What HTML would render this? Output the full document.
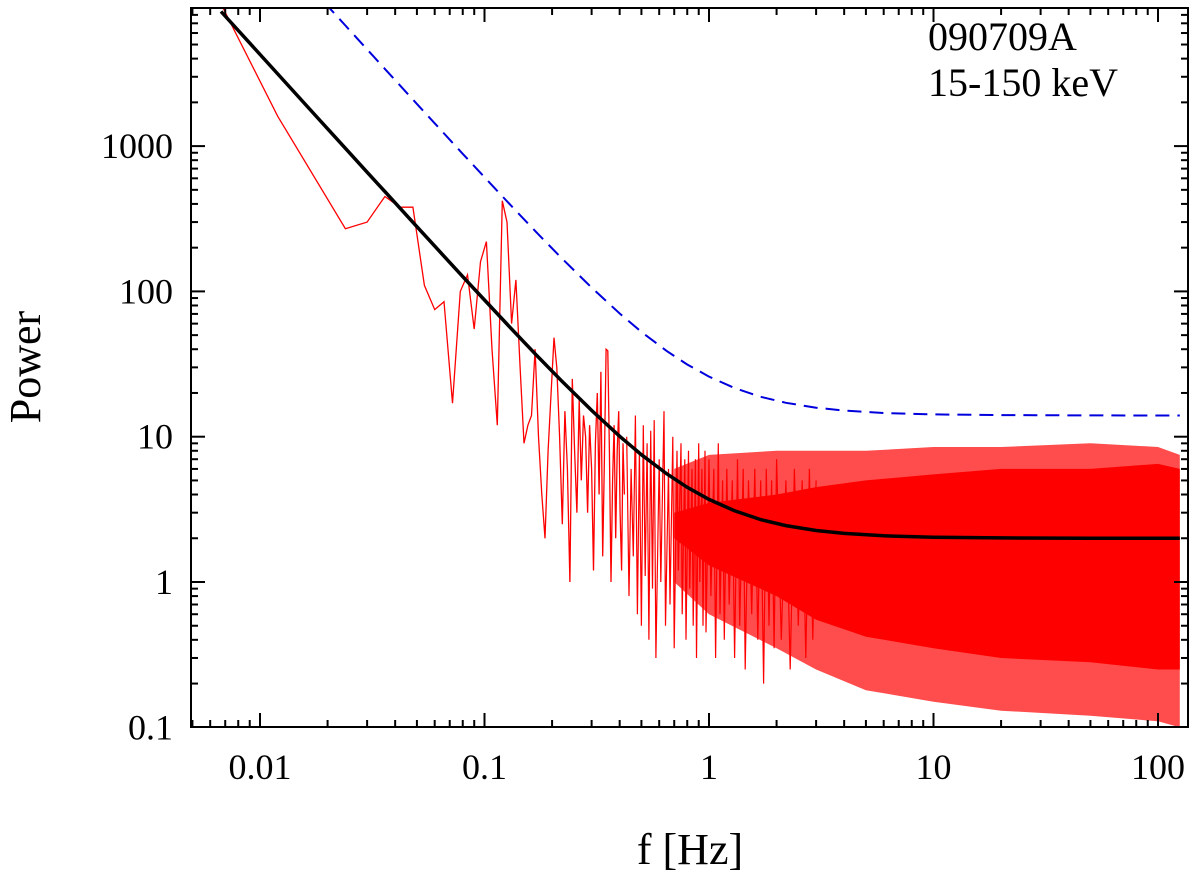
<!DOCTYPE html>
<html><head><meta charset="utf-8">
<style>
html,body{margin:0;padding:0;background:#fff;}
svg{display:block;font-family:"Liberation Serif",serif;}
</style></head>
<body>
<svg id="chart" width="1200" height="879" viewBox="0 0 1200 879">
  <defs><clipPath id="plotclip"><rect x="191" y="8" width="997" height="719"/></clipPath></defs>
  <g id="plot" clip-path="url(#plotclip)"></g>
  <g id="axes"></g>
  <text x="928" y="50" font-size="40">090709A</text>
  <text x="928" y="96" font-size="40">15-150 keV</text>
  <text x="690" y="864" font-size="44" text-anchor="middle">f [Hz]</text>
  <text transform="translate(40,367) rotate(-90)" font-size="44" text-anchor="middle">Power</text>
</svg>
<script>
// ---- data ----
const lowFreq = [0.0067,0.012,0.024,0.03,0.036,0.042,0.048,0.054,0.06,0.066,0.072,0.078,0.084,0.09,0.096,0.102,0.108,0.114,0.12,0.126,0.132,0.138,0.144,0.15,0.156,0.162,0.168,0.174,0.18,0.186,0.192,0.198,0.204,0.21,0.216,0.222,0.228,0.234,0.24,0.246,0.252,0.258,0.264,0.27,0.276,0.282,0.288,0.294,0.3,0.306,0.312,0.318,0.324,0.33,0.336,0.342,0.348,0.354,0.36,0.366,0.372,0.378,0.384,0.39,0.396,0.402,0.408,0.414,0.42];
const lowPower = [9500,1600,270,300,450,380,380,110,75,85,17,100,130,55,160,220,40,12,420,300,60,120,30,9,12,14,40,10,4,2,8,20,48,30,10,2.5,15,6,1,25,8,3,18,5,14,10,3,12,6,1.2,9,20,4,28,1.5,7,40,39,8,1,5,12,2,8,15,3,1.2,9,4];
const midFreq = [0.43,0.44,0.45,0.46,0.47,0.48,0.49,0.5,0.51,0.52,0.53,0.54,0.55,0.56,0.57,0.58,0.6,0.61,0.63,0.64,0.66,0.67,0.69,0.7,0.72,0.73,0.75,0.76,0.78,0.79,0.81,0.82,0.84,0.85,0.87,0.88,0.9,0.91,0.93,0.94,0.96,0.97,1.0,1.02,1.05,1.07,1.1,1.12,1.15,1.17,1.2,1.23,1.27,1.3,1.34,1.37,1.42,1.45,1.5,1.55,1.6,1.65,1.7,1.75,1.8,1.85,1.9,1.95,2.0,2.1,2.2,2.3,2.4,2.5,2.6,2.7,2.8,2.9,3.0];
const midPower = [10,0.8,6,1.5,14,0.6,8,0.5,12,1.1,9,0.4,11,0.9,13,0.3,7,1,15,0.5,6,0.7,10,0.35,8,1.2,9,0.6,7,0.4,8,0.9,6,0.5,7,0.3,9,1,6,0.5,8,0.45,7,0.8,6,0.3,9,0.6,5,0.4,6,0.7,5,0.3,7,0.5,6,0.25,5,0.6,6,0.4,5,0.2,6,0.5,5,0.35,7,0.4,5,0.25,6,0.5,5,0.3,6,0.4,5];
const bandFreq = [0.7,1,2,3,5,10,20,50,100,125];
const outerUpper = [6,7.5,8,8,8,8.5,8.5,9,8.5,7.5];
const outerLower = [1,0.6,0.35,0.25,0.18,0.15,0.13,0.12,0.11,0.1];
const coreUpper = [3,3.5,4,4.5,5,5.5,6,6,6.5,6];
const coreLower = [2,1.3,0.8,0.55,0.42,0.35,0.3,0.28,0.25,0.25];
const modelAmp = [1.7];
const modelAlpha = [1.7];
const modelConst = [2];
const thresholdScale = [7];
const modelFreq = [0.0067,0.012,0.018,0.024,0.03,0.036,0.048,0.06,0.08,0.1,0.13,0.17,0.22,0.3,0.4,0.5,0.65,0.8,1,1.3,1.7,2.2,3,4,6,10,20,50,125];
const xTicks = [0.01,0.1,1,10,100];
const xTickLabels = ["0.01","0.1","1","10","100"];
const yTicks = [0.1,1,10,100,1000];
const yTickLabels = ["0.1","1","10","100","1000"];

const L=191,R=1188,T=8,B=727;
const X = f => 260 + (Math.log10(f)+2)*224.5;
const Y = p => 582 - Math.log10(p)*145.3;
const NS="http://www.w3.org/2000/svg";
const plot=document.getElementById('plot'), axes=document.getElementById('axes');
function mk(tag, attrs, parent){const e=document.createElementNS(NS,tag);for(const k in attrs)e.setAttribute(k,attrs[k]);parent.appendChild(e);return e;}
const pts=(fs,ps)=>fs.map((f,i)=>X(f).toFixed(1)+','+Y(ps[i]).toFixed(1));

let e;
e=mk('polygon',{points:pts(bandFreq,outerUpper).concat(pts(bandFreq,outerLower).reverse()).join(' '),fill:'#ff0000','fill-opacity':'0.7'},plot);


e=mk('polygon',{points:pts(bandFreq,coreUpper).concat(pts(bandFreq,coreLower).reverse()).join(' '),fill:'#ff0000'},plot);


e=mk('polyline',{points:pts(midFreq,midPower).join(' '),fill:'none',stroke:'#ff0000','stroke-width':'1.2'},plot);


e=mk('polyline',{points:pts(lowFreq,lowPower).join(' '),fill:'none',stroke:'#ff0000','stroke-width':'1.3'},plot);



const model = modelFreq.map(f=>modelAmp[0]*Math.pow(f,-modelAlpha[0])+modelConst[0]);
e=mk('polyline',{points:pts(modelFreq,model.map(v=>v*thresholdScale[0])).join(' '),fill:'none',stroke:'#0000dd','stroke-width':'2','stroke-dasharray':'14,8'},plot);


e=mk('polyline',{points:pts(modelFreq,model).join(' '),fill:'none',stroke:'#000','stroke-width':'3.5'},plot);



e=mk('rect',{x:L,y:T,width:R-L,height:B-T,fill:'none',stroke:'#000','stroke-width':'2'},axes);


for(let d=-3; d<=2; d++){
  for(let m=1;m<10;m++){
    const f=m*Math.pow(10,d), x=X(f);
    if(x<L||x>R) continue;
    const len = m===1?14:7;
    mk('line',{x1:x,y1:B,x2:x,y2:B-len,stroke:'#000','stroke-width':'2'},axes);
    mk('line',{x1:x,y1:T,x2:x,y2:T+len,stroke:'#000','stroke-width':'2'},axes);
  }
}
xTicks.forEach((f,i)=>{
  const t=mk('text',{x:X(f),y:B+52,'font-size':'36','text-anchor':'middle'},axes);
  t.textContent=xTickLabels[i];
  
  
});
for(let d=-1; d<=3; d++){
  for(let m=1;m<10;m++){
    const p=m*Math.pow(10,d), y=Y(p);
    if(y<T||y>B) continue;
    const len = m===1?14:7;
    mk('line',{x1:L,y1:y,x2:L+len,y2:y,stroke:'#000','stroke-width':'2'},axes);
    mk('line',{x1:R,y1:y,x2:R-len,y2:y,stroke:'#000','stroke-width':'2'},axes);
  }
}
yTicks.forEach((p,i)=>{
  const t=mk('text',{x:L-18,y:Y(p)+12,'font-size':'36','text-anchor':'end'},axes);
  t.textContent=yTickLabels[i];
  
  
});
</script>
</body></html>
